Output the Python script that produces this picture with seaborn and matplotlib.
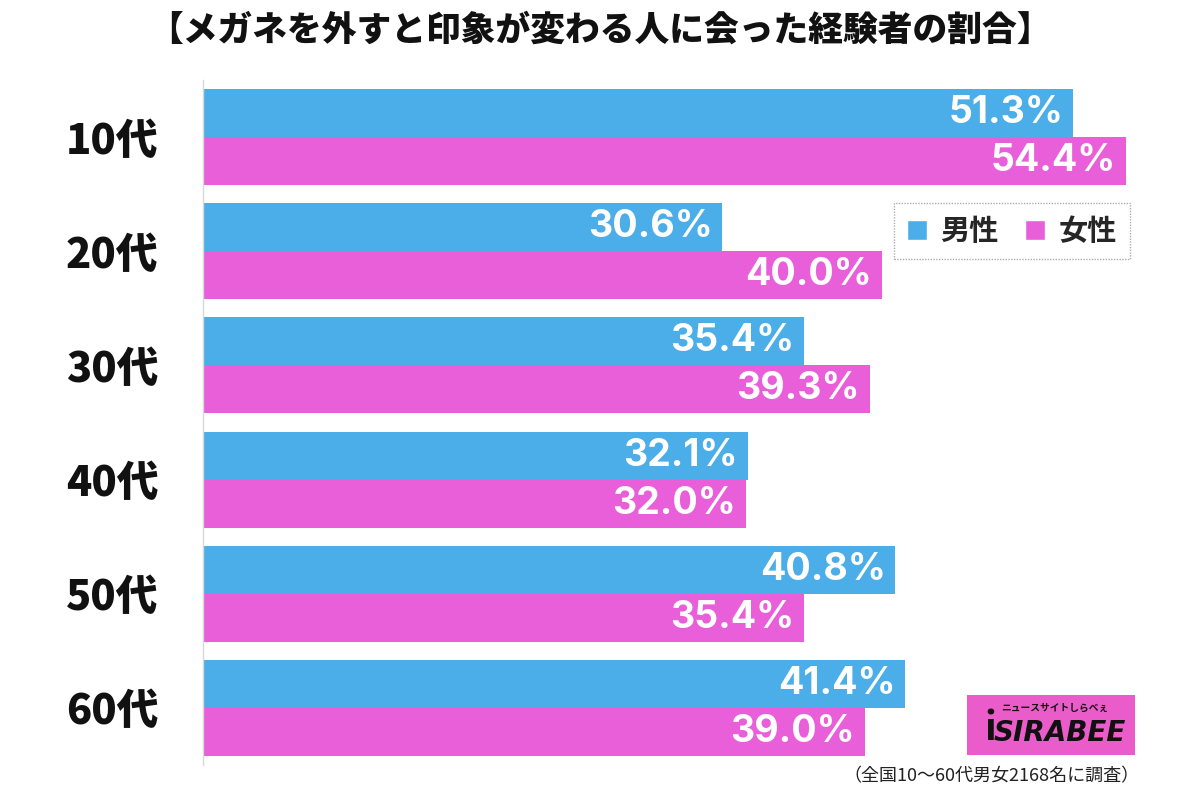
import pandas as pd
import matplotlib.pyplot as plt
import seaborn as sns
from matplotlib.patches import Rectangle, Patch

# ── data ───────────────────────────────────────
ages = ["10代", "20代", "30代", "40代", "50代", "60代"]
male = [51.3, 30.6, 35.4, 32.1, 40.8, 41.4]
female = [54.4, 40.0, 39.3, 32.0, 35.4, 39.0]
series = ["男性", "女性"]

TITLE = "【メガネを外すと印象が変わる人に会った経験者の割合】"
NOTE = "（全国10～60代男女2168名に調査）"

BLUE = "#4BAEE8"
PINK = "#E95FDA"

df = pd.DataFrame({
    "age": ages * 2,
    "sex": [series[0]] * len(ages) + [series[1]] * len(ages),
    "value": male + female,
})

# ── style ──────────────────────────────────────
sns.set_theme(style="white")
plt.rcParams["font.family"] = ["Noto Sans CJK JP", "DejaVu Sans"]

fig = plt.figure(figsize=(12, 7.97), dpi=100)
ax = fig.add_axes([0.1692, 0.0402, 0.82, 0.8594])

sns.barplot(data=df, y="age", x="value", hue="sex", order=ages,
            hue_order=series, palette=[BLUE, PINK], orient="h",
            width=0.84, saturation=1, legend=False, linewidth=0,
            edgecolor="none", ax=ax)

ax.set_xlim(0, 58)
ax.set_ylim(5.5, -0.5)
ax.set_xlabel("")
ax.set_ylabel("")
ax.set_xticks([])
for side in ["top", "right", "bottom"]:
    ax.spines[side].set_visible(False)
ax.spines["left"].set_color("#d8d8d8")
ax.spines["left"].set_linewidth(1)
ax.tick_params(axis="y", length=0, pad=32)
for lbl in ax.get_yticklabels():
    lbl.set_fontsize(30)
    lbl.set_fontweight("black")
    lbl.set_color("#111111")

# value labels inside bar ends
for cont in ax.containers:
    for t in ax.bar_label(cont, fmt="%.1f%%", padding=-7, color="white",
                          fontsize=27, fontweight="bold",
                          family=["Inter", "DejaVu Sans"]):
        t.set_ha("right")

# legend
handles = [Patch(facecolor=BLUE, label=series[0]),
           Patch(facecolor=PINK, label=series[1])]
leg = ax.legend(handles=handles, loc="upper right",
                bbox_to_anchor=(0.942, 0.8204), borderaxespad=0, ncol=2,
                prop={"size": 21, "weight": "bold"},
                handlelength=0.7, handleheight=0.7, handletextpad=0.45,
                columnspacing=0.9, borderpad=0.45, frameon=True,
                fancybox=False)
leg.get_frame().set_edgecolor("#999999")
leg.get_frame().set_linestyle((0, (1, 1)))
leg.get_frame().set_linewidth(1)

# title
fig.text(0.5, 0.962, TITLE, ha="center", va="center",
         fontsize=25, fontweight="black", color="#111111")

# logo block
fig.patches.append(Rectangle((967 / 1200, 1 - 755 / 797), 168 / 1200, 60 / 797,
                             transform=fig.transFigure, facecolor="#EB5CCB",
                             edgecolor="none"))
fig.text(1055 / 1200, 1 - 708 / 797, "ニュースサイトしらべぇ", ha="center",
         va="center", fontsize=7, fontweight="bold", color="#111111")
fig.text(990 / 1200, 1 - 729 / 797, "i", ha="center", va="center",
         fontsize=28, fontweight="bold", color="#111111", style="italic")
fig.text(1060 / 1200, 1 - 733 / 797, "SIRABEE", ha="center", va="center",
         fontsize=20, fontweight="heavy", color="#111111", style="italic",
         family=["DejaVu Sans"])

# footnote
fig.text(1140 / 1200, 1 - 776 / 797, NOTE, ha="right", va="center",
         fontsize=13, color="#222222")

fig.savefig("out.png", dpi=100)
